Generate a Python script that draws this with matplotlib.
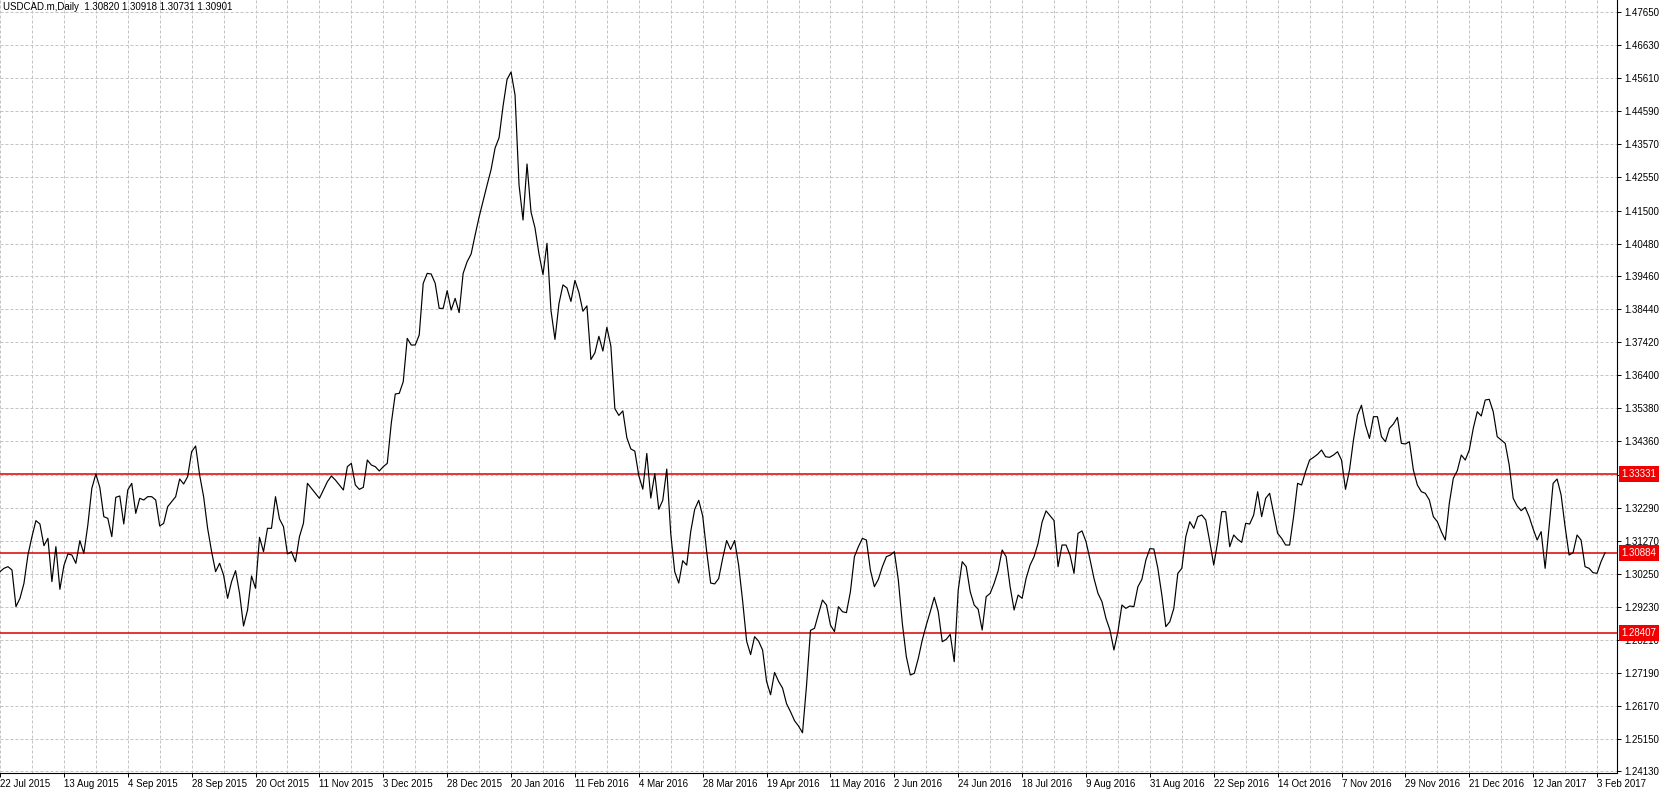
import numpy as np
import matplotlib.pyplot as plt
from matplotlib.transforms import ScaledTranslation, blended_transform_factory

plt.rcParams['font.family'] = ['Liberation Sans', 'DejaVu Sans']

symbol = "USDCAD.m,Daily"
ohlc = [1.30820, 1.30918, 1.30731, 1.30901]

# daily closes, first bar = 22 Jul 2015
closes = [
    1.30318, 1.30421, 1.30472, 1.30369, 1.29234, 1.29492, 1.29956, 1.30834, 1.31402, 1.31897,
    1.31794, 1.31123, 1.31350, 1.30008, 1.31092, 1.29771, 1.30503, 1.30865, 1.30834, 1.30576,
    1.31278, 1.30885, 1.31763, 1.32898, 1.33342, 1.32929, 1.32021, 1.31969, 1.31402, 1.32620,
    1.32661, 1.31794, 1.32847, 1.33053, 1.32124, 1.32589, 1.32537, 1.32640, 1.32640, 1.32537,
    1.31732, 1.31814, 1.32331, 1.32485, 1.32640, 1.33187, 1.33033, 1.33260, 1.34034, 1.34209,
    1.33311, 1.32640, 1.31660, 1.30937, 1.30318, 1.30576, 1.30214, 1.29492, 1.30008, 1.30349,
    1.29647, 1.28635, 1.29131, 1.30183, 1.29802, 1.31381, 1.30937, 1.31660, 1.31660, 1.32640,
    1.31950, 1.31711, 1.30864, 1.30937, 1.30627, 1.31401, 1.31814, 1.33053, 1.32898, 1.32743,
    1.32588, 1.32846, 1.33105, 1.33280, 1.33156, 1.33002, 1.32846, 1.33569, 1.33672, 1.33002,
    1.32867, 1.32929, 1.33776, 1.33621, 1.33569, 1.33435, 1.33569, 1.33672, 1.34911, 1.35820,
    1.35840, 1.36202, 1.37543, 1.37337, 1.37337, 1.37647, 1.39247, 1.39556, 1.39536, 1.39247,
    1.38472, 1.38472, 1.39020, 1.38421, 1.38782, 1.38338, 1.39556, 1.39918, 1.40155, 1.40744,
    1.41302, 1.41797, 1.42292, 1.42772, 1.43438, 1.43757, 1.44739, 1.45563, 1.45792, 1.45079,
    1.42292, 1.41208, 1.42943, 1.41456, 1.40961, 1.40155, 1.39518, 1.40487, 1.38410, 1.37511,
    1.38618, 1.39199, 1.39103, 1.38687, 1.39338, 1.38964, 1.38383, 1.38549, 1.36887, 1.37095,
    1.37607, 1.37150, 1.37884, 1.37303, 1.35365, 1.35157, 1.35296, 1.34465, 1.34119, 1.34050,
    1.33288, 1.32873, 1.33980, 1.32596, 1.33357, 1.32250, 1.32527, 1.33496, 1.31488, 1.30311,
    1.29965, 1.30657, 1.30519, 1.31557, 1.32250, 1.32527, 1.32042, 1.30935, 1.29965, 1.29938,
    1.30104, 1.30726, 1.31281, 1.31004, 1.31281, 1.30519, 1.29412, 1.28166, 1.27750, 1.28304,
    1.28166, 1.27889, 1.26920, 1.26505, 1.27197, 1.26920, 1.26712, 1.26228, 1.25979, 1.25702,
    1.25536, 1.25328, 1.26782, 1.28500, 1.28562, 1.29010, 1.29439, 1.29285, 1.28665, 1.28459,
    1.29233, 1.29078, 1.29047, 1.29698, 1.30781, 1.31091, 1.31349, 1.31298, 1.30368, 1.29852,
    1.30080, 1.30472, 1.30781, 1.30833, 1.30936, 1.30059, 1.28717, 1.27685, 1.27117, 1.27168,
    1.27633, 1.28201, 1.28665, 1.29078, 1.29522, 1.29078, 1.28149, 1.28221, 1.28376, 1.27530,
    1.29749, 1.30627, 1.30472, 1.29698, 1.29285, 1.29151, 1.28510, 1.29543, 1.29646, 1.29956,
    1.30348, 1.30988, 1.30781, 1.29852, 1.29130, 1.29594, 1.29491, 1.30110, 1.30523, 1.30781,
    1.31194, 1.31850, 1.32200, 1.32050, 1.31900, 1.30472, 1.31143, 1.31143, 1.30833, 1.30265,
    1.31504, 1.31580, 1.31250, 1.30700, 1.30110, 1.29646, 1.29388, 1.28872, 1.28510, 1.27891,
    1.28459, 1.29285, 1.29181, 1.29254, 1.29233, 1.29852, 1.30079, 1.30678, 1.31029, 1.31019,
    1.30420, 1.29594, 1.28614, 1.28769, 1.29181, 1.30265, 1.30420, 1.31401, 1.31865, 1.31659,
    1.32020, 1.32072, 1.31917, 1.31246, 1.30523, 1.31246, 1.32175, 1.32175, 1.31091, 1.31453,
    1.31318, 1.31225, 1.31814, 1.31793, 1.32072, 1.32794, 1.32020, 1.32588, 1.32743, 1.32123,
    1.31504, 1.31349, 1.31143, 1.31143, 1.32020, 1.33053, 1.33001, 1.33414, 1.33775, 1.33858,
    1.33951, 1.34085, 1.33878, 1.33858, 1.33930, 1.34033, 1.33775, 1.32867, 1.33465, 1.34400,
    1.35170, 1.35470, 1.34859, 1.34446, 1.35117, 1.35117, 1.34498, 1.34343, 1.34756, 1.34890,
    1.35097, 1.34292, 1.34271, 1.34343, 1.33466, 1.33001, 1.32795, 1.32743, 1.32537, 1.32021,
    1.31866, 1.31556, 1.31298, 1.32434, 1.33208, 1.33445, 1.33930, 1.33775, 1.34085, 1.34756,
    1.35272, 1.35138, 1.35634, 1.35654, 1.35272, 1.34498, 1.34395, 1.34292, 1.33621, 1.32588,
    1.32351, 1.32206, 1.32310, 1.32021, 1.31639, 1.31298, 1.31556, 1.30421, 1.31711, 1.33053,
    1.33187, 1.32692, 1.31711, 1.30833, 1.30906, 1.31453, 1.31298, 1.30472, 1.30421, 1.30286,
    1.30266, 1.30627, 1.30901,
]

# one date label every 16 bars
date_labels = [
    "22 Jul 2015", "13 Aug 2015", "4 Sep 2015", "28 Sep 2015", "20 Oct 2015",
    "11 Nov 2015", "3 Dec 2015", "28 Dec 2015", "20 Jan 2016", "11 Feb 2016",
    "4 Mar 2016", "28 Mar 2016", "19 Apr 2016", "11 May 2016", "2 Jun 2016",
    "24 Jun 2016", "18 Jul 2016", "9 Aug 2016", "31 Aug 2016", "22 Sep 2016",
    "14 Oct 2016", "7 Nov 2016", "29 Nov 2016", "21 Dec 2016", "12 Jan 2017",
    "3 Feb 2017",
]
label_step = 16

price_ticks = [1.47650, 1.46630, 1.45610, 1.44590, 1.43570, 1.42550, 1.41500,
               1.40480, 1.39460, 1.38440, 1.37420, 1.36400, 1.35380, 1.34360,
               1.33320, 1.32290, 1.31270, 1.30250, 1.29230, 1.28210, 1.27190,
               1.26170, 1.25150, 1.24130]

levels = [1.33331, 1.30884, 1.28407]

W, H = 1661, 794
fig = plt.figure(figsize=(W / 100, H / 100), dpi=100)
ax = fig.add_axes([0, 1 - 773 / H, 1617 / W, 773 / H])

x = np.arange(len(closes))
ax.plot(x, closes, color='black', lw=0.85, zorder=4)

for lv in levels:
    ax.axhline(lv, color='#d80000', lw=1.1, zorder=3)

ax.set_xlim(0.75, 405)
ax.set_ylim(1.24082, 1.48022)

# x axis
ax.set_xticks(np.arange(len(date_labels)) * label_step)
ax.set_xticklabels(date_labels, ha='left', fontsize=7)
ax.set_xticks(np.arange(0, 406, label_step // 2), minor=True)
off = ScaledTranslation(2 / 100, 0, fig.dpi_scale_trans)
for lab in ax.get_xticklabels():
    lab.set_transform(lab.get_transform() + off)
ax.tick_params(axis='x', which='major', length=3, width=0.7, pad=1.5, direction='out')
ax.tick_params(axis='x', which='minor', length=0)

# y axis on the right
ax.yaxis.tick_right()
ax.set_yticks(price_ticks)
ax.set_yticklabels([f"{p:.5f}" for p in price_ticks], fontsize=7)
ax.tick_params(axis='y', length=3, width=0.7, pad=2, direction='out')

for s in ['left', 'top']:
    ax.spines[s].set_visible(False)
for s in ['right', 'bottom']:
    ax.spines[s].set_linewidth(0.8)
    ax.spines[s].set_color('black')

ax.grid(True, which='major', axis='y', color='#c4c4c4', lw=0.72, linestyle=(0, (3, 2)))
ax.grid(True, which='both', axis='x', color='#c4c4c4', lw=0.72, linestyle=(0, (3, 2)))
ax.set_axisbelow(True)

# red price labels on the axis
trans = blended_transform_factory(ax.transAxes, ax.transData)
for lv in levels:
    ax.text(1 + 4.5 / 1617, lv, f"{lv:.5f}", transform=trans, ha='left', va='center',
            color='white', fontsize=7, zorder=10, clip_on=False,
            bbox=dict(boxstyle='square,pad=0.3', fc='#f00000', ec='none'))

fig.text(3 / W, 1 - 7.5 / H, symbol + "  " + " ".join(f"{v:.5f}" for v in ohlc),
         ha='left', va='center', fontsize=7, color='black')

fig.savefig('out.png', dpi=100)
